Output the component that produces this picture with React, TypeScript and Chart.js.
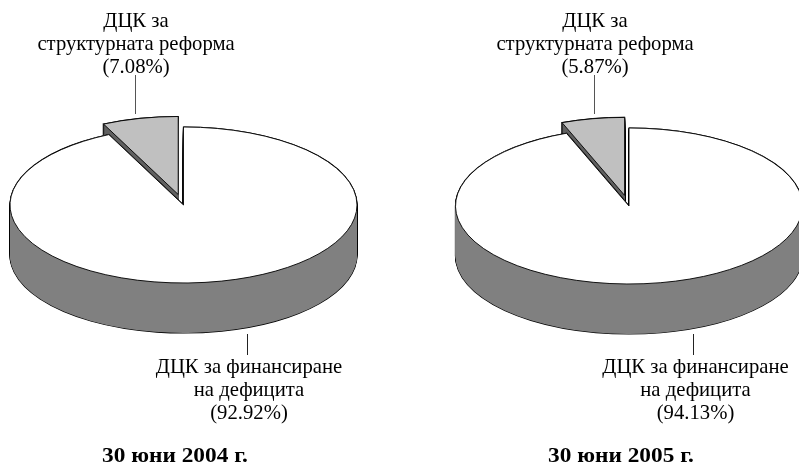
import React, { useEffect, useRef } from "react";
import { Chart, registerables } from "chart.js";

Chart.register(...registerables);

const categories = ["ДЦК за финансиране на дефицита", "ДЦК за структурната реформа"];
const values2004 = [92.92, 7.08];
const values2005 = [94.13, 5.87];
const titles = ["30 юни 2004 г.", "30 юни 2005 г."];
const topLabels = ["(7.08%)", "(5.87%)"];
const bottomLabels = ["(92.92%)", "(94.13%)"];

const FONT = '"Liberation Serif", "Times New Roman", serif';
const RADIUS = 173.5;
const SQUASH = 78 / 173.5;
const DEPTH = 50;
const EXPLODE = 24;

const pies = [
  { values: values2004, cx: 183.5, cy: 205, title: titles[0], top: topLabels[0], bottom: bottomLabels[0],
    topX: 136, bottomX: 249, titleX: 174.5, topLine: 135.5, bottomLine: 247.5 },
  { values: values2005, cx: 629, cy: 206, title: titles[1], top: topLabels[1], bottom: bottomLabels[1],
    topX: 595, bottomX: 695.5, titleX: 620.5, topLine: 594.5, bottomLine: 693.5 },
];

type Pie = (typeof pies)[number];

function arcOptions(fill: string, stroke: string, width: number) {
  return {
    backgroundColor: fill,
    borderColor: stroke,
    borderWidth: width,
    borderAlign: "center",
    borderRadius: 0,
    borderJoinStyle: "miter",
    borderDash: [],
    borderDashOffset: 0,
    spacing: 0,
    offset: 0,
    circular: true,
  };
}

function paintArc(ctx: any, arc: any, options: any, pie: Pie, explode: number, drop: number) {
  const mid = (arc.startAngle + arc.endAngle) / 2;
  ctx.save();
  ctx.translate(pie.cx, pie.cy + drop);
  ctx.scale(1, SQUASH);
  ctx.translate(-arc.x + Math.cos(mid) * explode, -arc.y + Math.sin(mid) * explode);
  const view = Object.create(arc);
  view.options = options;
  arc.draw.call(view, ctx);
  ctx.restore();
}

function extrude(ctx: any, arc: any, fill: string, pie: Pie, explode: number) {
  for (let d = DEPTH; d >= 0; d--) paintArc(ctx, arc, arcOptions("#000000", "#000000", 1.2), pie, explode, d);
  for (let d = DEPTH; d >= 0; d--) paintArc(ctx, arc, arcOptions(fill, fill, 0), pie, explode, d);
}

function pie3dPlugin(pie: Pie) {
  return {
    id: "pie3d",
    beforeDatasetsDraw(chart: any) {
      const ctx = chart.ctx;
      const [main, wedge] = chart.getDatasetMeta(0).data;
      const nativeStroke = ctx.stroke;
      ctx.stroke = function () {
        ctx.save();
        ctx.setTransform(1, 0, 0, 1, 0, 0);
        nativeStroke.call(ctx);
        ctx.restore();
      };
      extrude(ctx, wedge, "#606060", pie, EXPLODE);
      extrude(ctx, main, "#808080", pie, 0);
      paintArc(ctx, main, arcOptions("#ffffff", "#000000", 0.9), pie, 0, 0);
      paintArc(ctx, wedge, arcOptions("#c0c0c0", "#000000", 0.9), pie, EXPLODE, 0);
      delete ctx.stroke;

      ctx.save();
      ctx.lineWidth = 1;
      ctx.strokeStyle = "#555555";
      ctx.beginPath();
      ctx.moveTo(pie.topLine, 75);
      ctx.lineTo(pie.topLine, 114);
      ctx.stroke();
      ctx.strokeStyle = "#222222";
      ctx.beginPath();
      ctx.moveTo(pie.bottomLine, 334);
      ctx.lineTo(pie.bottomLine, 355);
      ctx.stroke();
      ctx.restore();
      return false;
    },
  };
}

function PieCanvas({ pie }: { pie: Pie }) {
  const ref = useRef<HTMLCanvasElement>(null);
  useEffect(() => {
    const chart = new Chart(ref.current!, {
      type: "pie",
      data: {
        labels: categories,
        datasets: [{ data: pie.values, backgroundColor: ["#ffffff", "#c0c0c0"], borderWidth: 0 }],
      },
      options: {
        animation: false,
        responsive: false,
        radius: RADIUS,
        plugins: { legend: { display: false }, tooltip: { enabled: false } },
      } as any,
      plugins: [pie3dPlugin(pie)],
    });
    return () => chart.destroy();
  }, [pie]);
  return <canvas ref={ref} width={799} height={465} style={{ position: "absolute", left: 0, top: 0 }} />;
}

function Label({ x, y, lines, bold }: { x: number; y: number; lines: string[]; bold?: boolean }) {
  return (
    <div
      style={{
        position: "absolute",
        left: x - 150,
        top: y,
        width: 300,
        textAlign: "center",
        fontFamily: FONT,
        fontSize: bold ? 21 : 20.7,
        transform: bold ? "scaleX(1.11)" : undefined,
        lineHeight: "23px",
        fontWeight: bold ? 700 : 400,
        color: "#000",
        whiteSpace: "nowrap",
      }}
    >
      {lines.map((l) => (
        <div key={l}>{l}</div>
      ))}
    </div>
  );
}

export default function App() {
  return (
    <div style={{ position: "fixed", left: 0, top: 0, width: 799, height: 465, overflow: "hidden", background: "#fff" }}>
      {pies.map((p) => (
        <PieCanvas key={p.title} pie={p} />
      ))}
      {pies.map((p) => (
        <React.Fragment key={p.title}>
          <Label x={p.topX} y={9} lines={["ДЦК за", "структурната реформа", p.top]} />
          <Label x={p.bottomX} y={355} lines={["ДЦК за финансиране", "на дефицита", p.bottom]} />
          <Label x={p.titleX} y={444} lines={[p.title]} bold />
        </React.Fragment>
      ))}
    </div>
  );
}
